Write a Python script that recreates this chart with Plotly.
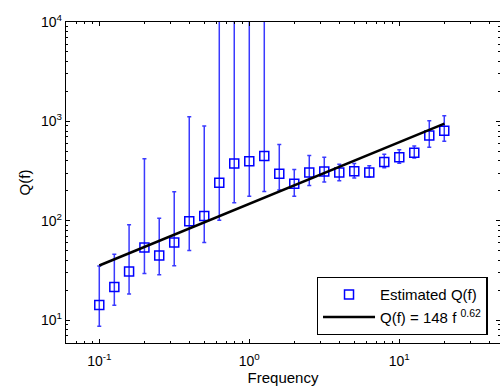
import numpy as np
import plotly.graph_objects as go

# Data
freq = [0.1, 0.126, 0.158, 0.2, 0.251, 0.316, 0.398, 0.501, 0.631, 0.794, 1.0,
        1.259, 1.585, 1.995, 2.512, 3.162, 3.981, 5.012, 6.31, 7.943, 10.0,
        12.59, 15.85, 19.95]
q_est = [14.2, 21.6, 30.9, 54, 44.8, 60.5, 99, 112, 241, 378, 398,
         448, 297, 236, 307, 314, 307, 316, 307, 390, 435,
         483, 723, 805]
q_hi = [35, 46, 91, 421, 106, 196, 1114, 897, 30000, 30000, 30000,
        30000, 587, 329, 455, 435, 371, 378, 357, 466, 518,
        565, 1014, 1140]
q_lo = [8.7, 14.1, 18.4, 29.5, 28.6, 35.2, 50.3, 60.5, 101, 152, 177,
        197, 204, 177, 227, 245, 253, 269, 276, 341, 380,
        428, 548, 630]
fit_a = 148
fit_b = 0.62
fit_f = [0.1, 20.0]
fit_q = [fit_a * f ** fit_b for f in fit_f]

x_ticks = [0.1, 1, 10]
x_ticktext = ["10<sup>-1</sup>", "10<sup>0</sup>", "10<sup>1</sup>"]
y_ticks = [10, 100, 1000, 10000]
y_ticktext = ["10<sup>1</sup>", "10<sup>2</sup>", "10<sup>3</sup>", "10<sup>4</sup>"]

err_plus = [h - q for h, q in zip(q_hi, q_est)]
err_minus = [q - l for l, q in zip(q_lo, q_est)]

blue = "#0000ff"
font = "Liberation Sans, Arial, sans-serif"

fig = go.Figure()
fig.add_trace(go.Scatter(
    x=freq, y=q_est, mode="markers", name="Estimated Q(f)",
    marker=dict(symbol="square-open", size=9, color=blue, line=dict(width=1.5, color=blue)),
    error_y=dict(type="data", symmetric=False, array=err_plus, arrayminus=err_minus,
                 color="#3a3aff", thickness=1.5, width=2),
))
fig.add_trace(go.Scatter(
    x=fit_f, y=fit_q, mode="lines", name="Q(f) = 148 f <sup>0.62</sup>",
    line=dict(color="black", width=2.5),
))

L, T, B, R = 66, 22, 46, 0
W, H = 500, 389
pw = W - L - R
ph = H - T - B
x0 = np.log10(0.06)
x1 = x0 + pw / 150.0
y1 = 4.0
y0 = y1 - ph / 99.4

def minor_vals(lo, hi):
    vals = []
    for e in range(int(np.floor(lo)) - 1, int(np.ceil(hi)) + 1):
        for m in range(2, 10):
            vals.append(m * 10.0 ** e)
    return vals

fig.update_layout(
    width=W, height=H,
    margin=dict(l=L, r=R, t=T, b=B),
    paper_bgcolor="white", plot_bgcolor="white",
    font=dict(family=font, size=14, color="black"),
    showlegend=True,
    legend=dict(x=0.9717, y=0.025, xanchor="right", yanchor="bottom",
                bordercolor="black", borderwidth=1.3, bgcolor="white",
                font=dict(size=15, family=font), itemwidth=52,
                entrywidth=123, entrywidthmode="pixels",
                tracegroupgap=0),
)
fig.update_xaxes(
    type="log", range=[x0, x1], showgrid=False, zeroline=False,
    showline=True, linecolor="black", linewidth=1.3, mirror="ticks",
    ticks="inside", ticklen=4, tickcolor="black",
    tickmode="array", tickvals=x_ticks, ticktext=x_ticktext,
    tickfont=dict(size=14, family=font), ticklabelstandoff=5,
    minor=dict(ticks="inside", ticklen=2, tickcolor="black", showgrid=False,
               tickmode="array", tickvals=minor_vals(x0, x1)),
    title=dict(text="Frequency", font=dict(size=15, family=font), standoff=0),
)
fig.update_yaxes(
    type="log", range=[y0, y1], showgrid=False, zeroline=False,
    showline=True, linecolor="black", linewidth=1.3, mirror="ticks",
    ticks="inside", ticklen=4, tickcolor="black",
    tickmode="array", tickvals=y_ticks, ticktext=y_ticktext,
    tickfont=dict(size=14, family=font),
    minor=dict(ticks="inside", ticklen=2, tickcolor="black", showgrid=False,
               tickmode="array", tickvals=minor_vals(y0, y1)),
    title=dict(text="Q(f)", font=dict(size=15, family=font), standoff=6),
)

fig.write_html("out.html")
